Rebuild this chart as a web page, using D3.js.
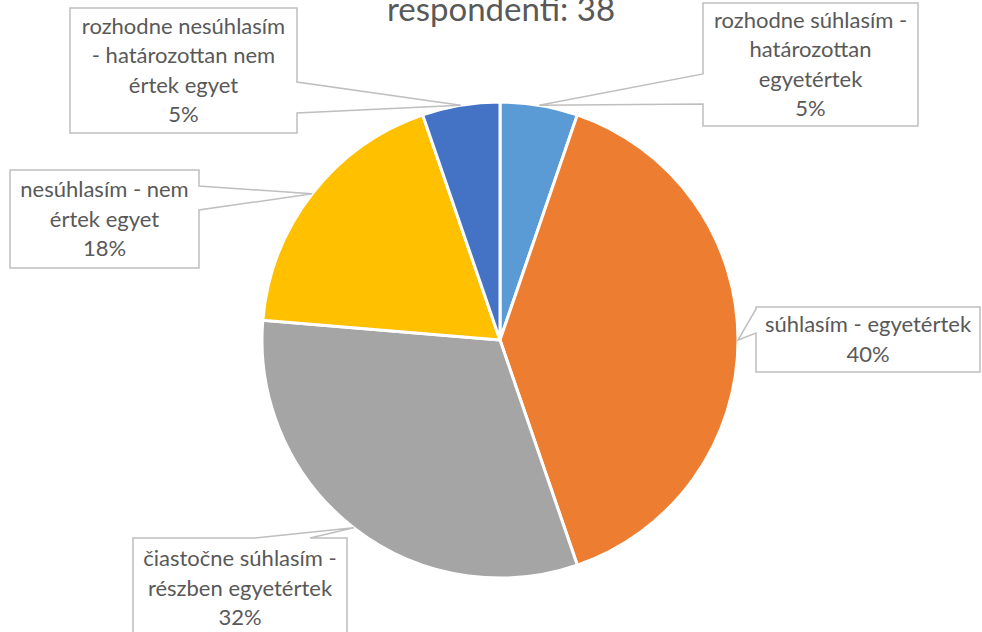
<!DOCTYPE html>
<html>
<head>
<meta charset="utf-8">
<script src="https://cdn.jsdelivr.net/npm/d3@7/dist/d3.min.js"></script>
<style>
  html, body { margin: 0; padding: 0; background: #fff; }
  svg { display: block; }
</style>
</head>
<body>
<svg id="chart" width="982" height="632"></svg>
<script>
// ---- data ----
const title = "respondenti: 38";
const categories = [
  "rozhodne súhlasím - határozottan egyetértek",
  "súhlasím - egyetértek",
  "čiastočne súhlasím - részben egyetértek",
  "nesúhlasím - nem értek egyet",
  "rozhodne nesúhlasím - határozottan nem értek egyet"
];
const counts = [2, 15, 12, 7, 2];
const percentLabels = ["5%", "40%", "32%", "18%", "5%"];
const labelLines = [
  ["rozhodne súhlasím -", "határozottan", "egyetértek"],
  ["súhlasím - egyetértek"],
  ["čiastočne súhlasím -", "részben egyetértek"],
  ["nesúhlasím - nem", "értek egyet"],
  ["rozhodne nesúhlasím", "- határozottan nem", "értek egyet"]
];
const colors = ["#5B9BD5", "#ED7D31", "#A5A5A5", "#FFC000", "#4472C4"];

// ---- layout ----
const cx = 500, cy = 340, r = 238;
const boxes = [
  {x: 703, y: 3,   w: 215, h: 123, side: "left",  b1: 74,  b2: 104},
  {x: 756, y: 307, w: 224, h: 65,  side: "left",  b1: 309, b2: 333},
  {x: 133, y: 538, w: 214, h: 100, side: "top",   b1: 255, b2: 310},
  {x: 10,  y: 170, w: 189, h: 98,  side: "right", b1: 186, b2: 210},
  {x: 70,  y: 8,   w: 227, h: 125, side: "right", b1: 82,  b2: 113}
];
const lineH = 29.5;

const svg = d3.select("#chart");
const textColor = "#595959";
const font = "Lato, 'Open Sans', sans-serif";

svg.append("text")
  .attr("x", 501).attr("y", 21)
  .attr("text-anchor", "middle")
  .attr("font-family", font)
  .attr("font-size", 33)
  .attr("fill", textColor)
  .text(title);

const pie = d3.pie().sort(null).value(d => d);
const arcs = pie(counts);
const arc = d3.arc().innerRadius(0).outerRadius(r);

const g = svg.append("g").attr("transform", `translate(${cx},${cy})`);
g.selectAll("path")
  .data(arcs)
  .join("path")
  .attr("d", arc)
  .attr("fill", (d, i) => colors[i])
  .attr("stroke", "#fff")
  .attr("stroke-width", 3)
  .attr("stroke-linejoin", "round");

function calloutPath(b, tip) {
  const x0 = b.x, y0 = b.y, x1 = b.x + b.w, y1 = b.y + b.h;
  const pts = [[x0, y0]];
  if (b.side === "top") pts.push([b.b1, y0], tip, [b.b2, y0]);
  pts.push([x1, y0]);
  if (b.side === "right") pts.push([x1, b.b1], tip, [x1, b.b2]);
  pts.push([x1, y1]);
  pts.push([x0, y1]);
  if (b.side === "left") pts.push([x0, b.b2], tip, [x0, b.b1]);
  return "M" + pts.map(p => p.join(",")).join("L") + "Z";
}

arcs.forEach((d, i) => {
  const a = (d.startAngle + d.endAngle) / 2;
  const tip = [cx + r * Math.sin(a), cy - r * Math.cos(a)];
  const b = boxes[i];
  svg.append("path")
    .attr("d", calloutPath(b, tip))
    .attr("fill", "#fff")
    .attr("stroke", "#BFBFBF")
    .attr("stroke-width", 1.5);
  const lines = labelLines[i].concat([percentLabels[i]]);
  const midY = b.y + b.h / 2;
  const startY = midY - (lines.length - 1) * lineH / 2;
  const t = svg.append("text")
    .attr("text-anchor", "middle")
    .attr("font-family", font)
    .attr("font-size", 22)
    .attr("fill", textColor);
  lines.forEach((ln, j) => {
    t.append("tspan")
      .attr("x", b.x + b.w / 2)
      .attr("y", startY + j * lineH)
      .attr("dy", "0.35em")
      .text(ln);
  });
});
</script>
</body>
</html>
